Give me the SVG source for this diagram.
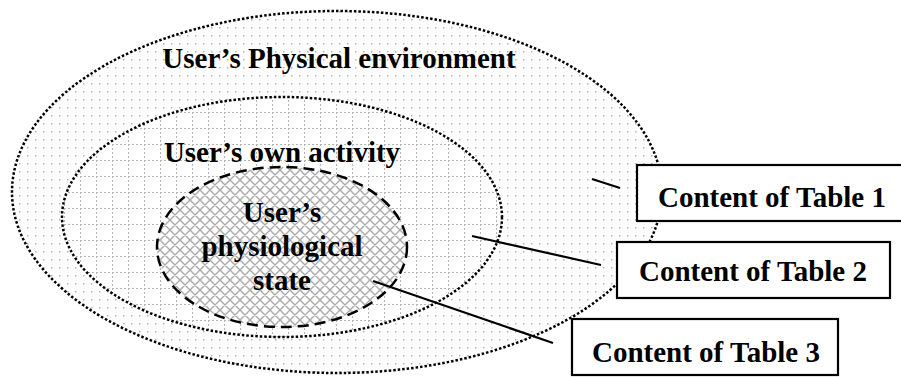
<svg xmlns="http://www.w3.org/2000/svg" width="901" height="377" viewBox="0 0 901 377">
  <defs>
    <!-- sparse dot fill for the outer zone -->
    <pattern id="dots" width="8" height="8" patternUnits="userSpaceOnUse">
      <rect width="8" height="8" fill="#fff"/>
      <rect x="3" y="3" width="1.5" height="1.5" fill="#b4b4b4"/>
    </pattern>
    <!-- dotted square grid for the middle zone -->
    <pattern id="grid" width="16" height="16" patternUnits="userSpaceOnUse">
      <rect width="16" height="16" fill="#fff"/>
      <path d="M0 0.5 H16 M0.5 0 V16" stroke="#b4b4b4" stroke-width="1.2" stroke-dasharray="2 2" fill="none"/>
    </pattern>
    <!-- diagonal cross-hatch for the inner zone -->
    <pattern id="hatch" width="10" height="10" patternUnits="userSpaceOnUse">
      <rect width="10" height="10" fill="#fff"/>
      <path d="M0 0 L10 10 M10 0 L0 10 M-1 9 L1 11 M9 -1 L11 1 M-1 1 L1 -1 M9 11 L11 9" stroke="#aaa" stroke-width="1.4" fill="none"/>
    </pattern>
  </defs>
  <style>
    .dotted { stroke: #000; stroke-width: 2.5; stroke-dasharray: 2.5 2; }
    .dashed { stroke: #000; stroke-width: 2.5; stroke-dasharray: 11 6; }
    .label { font-weight: bold; font-size: 29px; fill: #000; text-anchor: middle; }
    .box { fill: #fff; stroke: #000; stroke-width: 2.2; }
    .conn { stroke: #000; stroke-width: 2.2; fill: none; }
  </style>

  <g font-family="'Liberation Serif', 'Times New Roman', 'DejaVu Serif', serif">
    <g id="physical-environment">
      <ellipse cx="337" cy="192" rx="325" ry="181" fill="url(#dots)" class="dotted"/>
      <text class="label" x="339" y="68">User’s Physical environment</text>
    </g>

    <g id="own-activity">
      <ellipse cx="282" cy="217" rx="220" ry="120" fill="url(#grid)" class="dotted"/>
      <text class="label" x="282" y="162">User’s own activity</text>
    </g>

    <g id="physiological-state">
      <ellipse cx="282" cy="247" rx="125" ry="80" fill="url(#hatch)" class="dashed"/>
      <text class="label" x="282" y="222">User’s</text>
      <text class="label" x="282" y="256">physiological</text>
      <text class="label" x="282" y="290">state</text>
    </g>

    <g id="connectors">
      <line class="conn" x1="592" y1="179" x2="620" y2="188"/>
      <line class="conn" x1="472" y1="236" x2="601" y2="265"/>
      <line class="conn" x1="373" y1="281" x2="553" y2="343"/>
    </g>

    <g id="table-1">
      <rect class="box" x="637" y="165" width="272" height="56"/>
      <text class="label" x="772" y="207">Content of Table 1</text>
    </g>

    <g id="table-2">
      <rect class="box" x="617" y="242" width="273" height="56"/>
      <text class="label" x="753" y="281">Content of Table 2</text>
    </g>

    <g id="table-3">
      <rect class="box" x="572" y="319" width="266" height="56"/>
      <text class="label" x="706" y="362">Content of Table 3</text>
    </g>
  </g>
</svg>
